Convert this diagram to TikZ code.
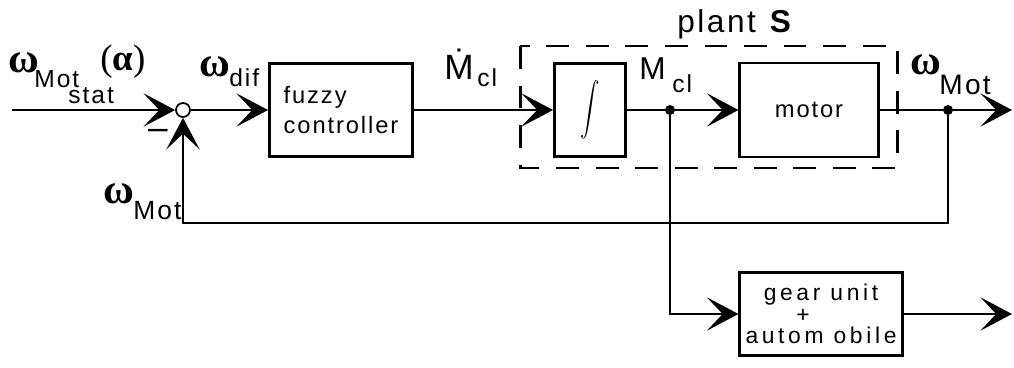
\documentclass[tikz,border=0pt]{standalone}
\usepackage{fontspec}
\setmainfont[LetterSpace=8]{Liberation Sans}
\newfontfamily\grk{Liberation Serif}
\newfontfamily\widesans[LetterSpace=16]{Liberation Sans}
\usetikzlibrary{arrows.meta,positioning}
\newcommand{\om}{{\grk\bfseries\fontsize{24}{24}\selectfont ω}}
\begin{document}
\begin{tikzpicture}[
    x=0.02cm, y=-0.02cm,
    every node/.style={inner sep=0pt, font=\fontsize{13.5}{17}\selectfont},
    block/.style={draw, line width=1.7pt},
    thinblock/.style={draw, line width=1.2pt},
    sig/.style={line width=1pt},
    tip/.style={-{Stealth[length=18pt, width=19pt, inset=9pt]}},
    junction/.style={circle, fill=black, minimum size=0.2cm},
    lbl/.style={anchor=base west, font=\fontsize{18}{18}\selectfont},
    sub/.style={anchor=base west, font=\fontsize{14}{14}\selectfont}
]
\useasboundingbox (0,0) rectangle (1014,368);

% Blocks
\coordinate (in) at (12,110);
\node[circle, draw, line width=1pt, minimum size=0.28cm] (sum) at (183,110) {};
\node[block, minimum width=2.86cm, minimum height=1.86cm, align=left] (fuzzy) at (341,110) {fuzzy\\controller};
\node[block, minimum width=1.42cm, minimum height=1.88cm] (integ) at (590,110) {\scalebox{1.1}[1.5]{$\displaystyle\int$}};
\node[thinblock, minimum width=2.78cm, minimum height=1.88cm] (motor) at (809,110) {motor};
\node[thinblock, minimum width=3.26cm, minimum height=1.66cm, align=center,
      font=\widesans\fontsize{13}{12.2}\selectfont] (gear) at (821,314)
      {gear unit\\\makebox[0.72cm][l]{\makebox[0pt]{+}}\\autom obile};

% Plant boundary
\draw[line width=1.7pt, dash pattern=on 13pt off 9.5pt] (520,46) rectangle (897,168);
\node[lbl] (plant) at (677,33) {plant \textbf{S}};

% Junctions and free ends
\node[junction] (jm) at (670,110) {};
\node[junction] (jo) at (948,110) {};
\coordinate (out) at (1012,110);
\coordinate (fb) at (183,223);
\coordinate (gout) at (1012,314);

% Signal lines
\draw[sig, tip] (in) -- (sum.west);
\draw[sig, tip] (sum.east) -- (fuzzy.west);
\draw[sig, tip] (fuzzy.east) -- (integ.west);
\draw[sig] (integ.east) -- (jm);
\draw[sig, tip] (jm) -- (motor.west);
\draw[sig] (motor.east) -- (jo);
\draw[sig, tip] (jo) -- (out);
\draw[sig, tip] (jo) |- (fb) -- (sum.south);
\draw[sig, tip] (jm) |- (gear.west);
\draw[sig, tip] (gear.east) -- (gout);

% Labels
\node[anchor=base west] (w1) at (8,73) {\om};
\node[sub] (w1m) at (34,88) {Mot};
\node[sub] (w1s) at (68,104) {stat};
\node[anchor=base west, font=\grk\fontsize{21}{21}\selectfont] (w1a) at (100,71) {({\bfseries α})};
\node[font=\fontsize{20}{20}\selectfont] (minus) at (158,134) {\textendash};
\node[anchor=base west] (w2) at (199,77) {\om};
\node[sub] (w2d) at (229,87) {dif};
\node[lbl, font=\fontsize{20}{20}\selectfont] (mdot) at (444,80) {\.{M}};
\node[sub] (mdotc) at (477,87) {cl};
\node[lbl] (m) at (639,80) {M};
\node[sub] (mc) at (672,92) {cl};
\node[anchor=base west] (w3) at (910,75) {\om};
\node[sub, font=\fontsize{16}{16}\selectfont] (w3m) at (939,94) {Mot};
\node[anchor=base west] (w4) at (103,203) {\om};
\node[sub, font=\fontsize{15}{15}\selectfont] (w4m) at (133,219) {Mot};

\end{tikzpicture}
\end{document}
